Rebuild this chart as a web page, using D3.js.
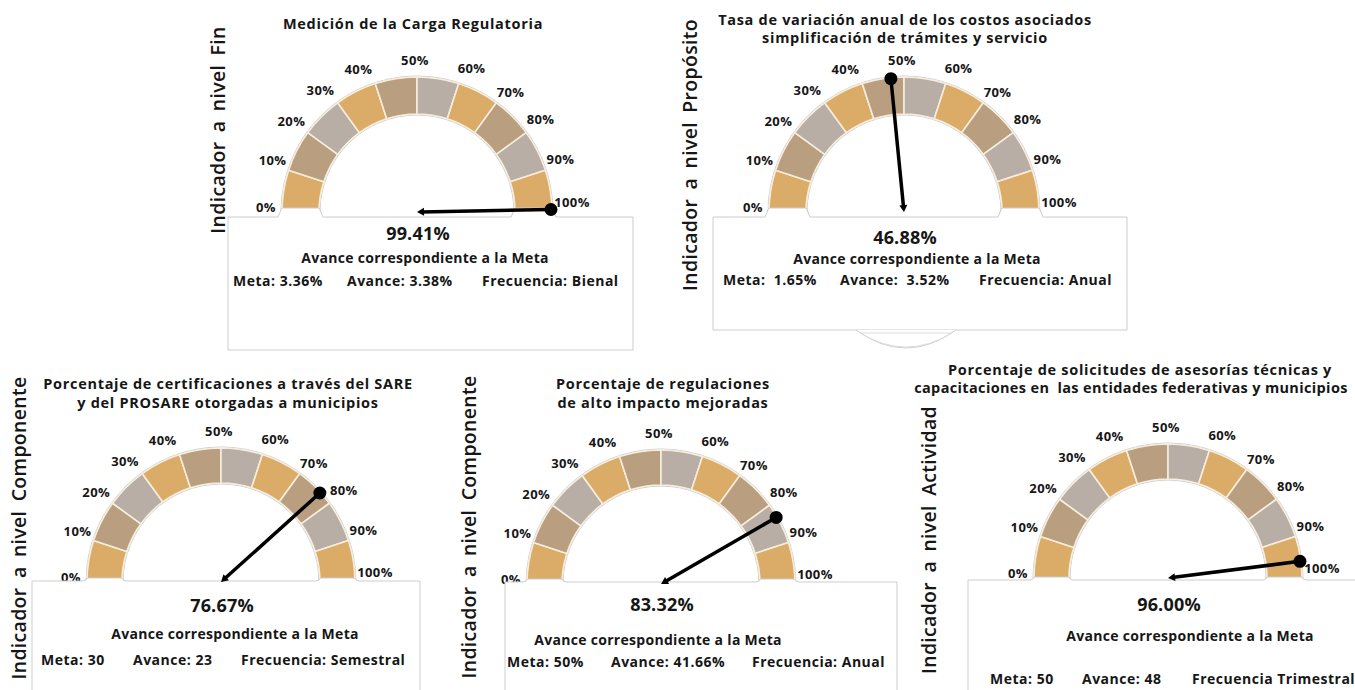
<!DOCTYPE html>
<html lang="es">
<head>
<meta charset="utf-8">
<title>Indicadores de avance</title>
<script src="https://cdn.jsdelivr.net/npm/d3@7"></script>
<style>
  html, body { margin: 0; padding: 0; background: #ffffff; }
  svg { display: block; font-family: "Open Sans", "Noto Sans", sans-serif; }
  text { white-space: pre; fill: #161616; }
</style>
</head>
<body>
<svg id="chart" width="1355" height="690"></svg>
<script>
// ---- Data ----
const titles = [
  ["Medición de la Carga Regulatoria"],
  ["Tasa de variación anual de los costos asociados", "simplificación de trámites y servicio"],
  ["Porcentaje de certificaciones a través del SARE", "y del PROSARE otorgadas a municipios"],
  ["Porcentaje de regulaciones", "de alto impacto mejoradas"],
  ["Porcentaje de solicitudes de asesorías técnicas y", "capacitaciones en  las entidades federativas y municipios"]
];
const levels = ["Fin", "Propósito", "Componente", "Componente", "Actividad"];
const values = [99.41, 46.88, 76.67, 83.32, 96.00];
const metaLabels = ["Meta: 3.36%", "Meta:  1.65%", "Meta: 30", "Meta: 50%", "Meta: 50"];
const avanceLabels = ["Avance: 3.38%", "Avance:  3.52%", "Avance: 23", "Avance: 41.66%", "Avance: 48"];
const frecuenciaLabels = ["Frecuencia: Bienal", "Frecuencia: Anual", "Frecuencia: Semestral", "Frecuencia: Anual", "Frecuencia Trimestral"];
const ticks = [0, 10, 20, 30, 40, 50, 60, 70, 80, 90, 100];
const subtitle = "Avance correspondiente a la Meta";

// ---- Styling ----
const bandColors = ["#dbac68", "#b99e7f", "#b8aea5"];
const dividerColor = "#f6eedc";
const borderColor = "#cdcdcd";
// small per-label offsets so the percentage labels sit clear of the band
const tickNudge = [[3, -5], [2, -4], [-1, 0], [-6, 3], [-11, 3], [-2, 2], [7, 2], [3, 5], [-1, -2], [-3, -5], [1, -10]];

// ---- Panel geometry ----
const layout = [
  { cx: 417, cy: 212, R: 135, r: 98, box: [228, 217, 405, 133], tabH: 9,
    titleX: [413], titleY: [23], titleLS: [0.7], side: [217, 130],
    valY: 233, subX: 425, subY: 257, rowY: 280, rowX: [233, 347, 482] },
  { cx: 904, cy: 212, R: 135, r: 98, box: [713, 217, 414, 113], tabH: 9,
    titleX: [905, 905], titleY: [19, 37], titleLS: [0.7, 0.7], side: [689, 155],
    valY: 237, subX: 917, subY: 258, rowY: 279, rowX: [723, 840, 979], foot: true },
  { cx: 221, cy: 582, R: 134, r: 99, box: [32, 581, 388, 130], tabH: 3,
    titleX: [228, 228], titleY: [383, 402], titleLS: [0.7, 0.7], side: [18, 528],
    valY: 605, subX: 235, subY: 633, rowY: 659, rowX: [41, 133, 241] },
  { cx: 661, cy: 584, R: 134, r: 99, box: [505, 582, 392, 130], tabH: 3,
    titleX: [663, 663], titleY: [383, 402], titleLS: [0.7, 0.7], side: [468, 527],
    valY: 604, subX: 658, subY: 639, rowY: 661, rowX: [507, 611, 752] },
  { cx: 1168, cy: 578, R: 134, r: 99, box: [968, 580, 400, 130], tabH: 3,
    titleX: [1140, 1131], titleY: [369, 387], titleLS: [0.7, 0.35], side: [928, 540],
    valY: 604, subX: 1190, subY: 635, rowY: 678, rowX: [990, 1082, 1192] }
];

const svg = d3.select("#chart");

// value (0..100) -> angle (radians, 0 = up, clockwise)
const angle = d3.scaleLinear().domain([0, 100]).range([-Math.PI / 2, Math.PI / 2]);

layout.forEach((L, i) => {
  const g = svg.append("g").attr("class", "panel");

  // title
  const t = g.append("text")
    .attr("text-anchor", "middle")
    .attr("font-size", 14.5)
    .attr("font-weight", 700);
  titles[i].forEach((line, k) => {
    t.append("tspan")
      .attr("x", L.titleX[k]).attr("y", L.titleY[k])
      .attr("letter-spacing", L.titleLS[k])
      .attr("dominant-baseline", "central")
      .text(line);
  });

  // vertical level label
  g.append("text")
    .attr("transform", `translate(${L.side[0]},${L.side[1]}) rotate(-90)`)
    .attr("text-anchor", "middle")
    .attr("dominant-baseline", "central")
    .attr("font-size", 19.5)
    .attr("font-weight", 600)
    .attr("letter-spacing", 0.3)
    .attr("word-spacing", 4)
    .text("Indicador a nivel " + levels[i]);

  const gauge = g.append("g").attr("transform", `translate(${L.cx},${L.cy})`);

  // band outline
  gauge.append("path")
    .attr("d", d3.arc()({ innerRadius: L.r - 1, outerRadius: L.R + 1, startAngle: angle(0), endAngle: angle(100) }))
    .attr("fill", "none")
    .attr("stroke", borderColor)
    .attr("stroke-width", 1);

  // coloured segments between consecutive ticks
  const segs = d3.pairs(ticks);
  gauge.selectAll("path.seg")
    .data(segs)
    .join("path")
    .attr("class", "seg")
    .attr("d", d => d3.arc()({ innerRadius: L.r, outerRadius: L.R, startAngle: angle(d[0]), endAngle: angle(d[1]) }))
    .attr("fill", (d, k) => bandColors[k % 3])
    .attr("stroke", dividerColor)
    .attr("stroke-width", 1.6);

  // info box with raised tabs under the gauge ends
  const [bx, by, bw, bh] = L.box;
  const tab = (x0, x1) => {
    const h = L.tabH;
    return `L${x0 - 3},${by} L${x0},${by - h + 2} Q${x0},${by - h} ${x0 + 2},${by - h} ` +
           `L${x1 - 2},${by - h} Q${x1},${by - h} ${x1},${by - h + 2} L${x1 + 3},${by} `;
  };
  const lx0 = L.cx - L.R - 1, lx1 = L.cx - L.r + 1;
  const rx0 = L.cx + L.r - 1, rx1 = L.cx + L.R + 1;
  const boxPath = `M${bx},${by} ` + tab(lx0, lx1) + tab(rx0, rx1) +
    `L${bx + bw},${by} L${bx + bw},${by + bh} L${bx},${by + bh} Z`;
  g.append("path")
    .attr("d", boxPath)
    .attr("fill", "#ffffff")
    .attr("stroke", borderColor)
    .attr("stroke-width", 1);

  if (L.foot) {
    const y0 = by + bh;
    const fx = L.cx + 2;
    g.append("path")
      .attr("d", `M${fx - 50},${y0} Q${fx},${y0 + 36} ${fx + 50},${y0}`)
      .attr("fill", "#ffffff")
      .attr("stroke", borderColor)
      .attr("stroke-width", 1);
    g.append("path")
      .attr("d", `M${fx - 46},${y0 + 3} Q${fx},${y0 + 31} ${fx + 46},${y0 + 3} Z`)
      .attr("fill", "none")
      .attr("stroke", "#dcdcdc")
      .attr("stroke-width", 1);
  }

  // tick labels
  const lr = L.R + 19;
  gauge.selectAll("text.tick")
    .data(ticks)
    .join("text")
    .attr("class", "tick")
    .attr("x", (d, k) => Math.sin(angle(d)) * lr + tickNudge[k][0])
    .attr("y", (d, k) => -Math.cos(angle(d)) * lr + tickNudge[k][1])
    .attr("text-anchor", "middle")
    .attr("dominant-baseline", "central")
    .attr("font-size", 13)
    .attr("font-weight", 700)
    .attr("letter-spacing", 0.4)
    .text(d => d + "%");

  // needle
  const a = angle(values[i]);
  const nl = L.R - 1;
  const nx = Math.sin(a) * nl, ny = -Math.cos(a) * nl;
  const needle = g.append("g").attr("transform", `translate(${L.cx},${L.cy})`);
  const ux = -nx / nl, uy = -ny / nl; // unit vector pointing at the hub
  needle.append("line")
    .attr("x1", nx).attr("y1", ny)
    .attr("x2", -ux * 4).attr("y2", -uy * 4)
    .attr("stroke", "#000").attr("stroke-width", 3.5);
  needle.append("path")
    .attr("d", `M0,0 L${-ux * 7 - uy * 4},${-uy * 7 + ux * 4} L${-ux * 7 + uy * 4},${-uy * 7 - ux * 4} Z`)
    .attr("fill", "#000");
  needle.append("circle")
    .attr("cx", nx).attr("cy", ny).attr("r", 6.5)
    .attr("fill", "#000");

  // texts inside the box
  g.append("text")
    .attr("x", L.cx + 1).attr("y", L.valY)
    .attr("text-anchor", "middle").attr("dominant-baseline", "central")
    .attr("font-size", 18).attr("font-weight", 700).attr("letter-spacing", 0.2)
    .text(d3.format(".2f")(values[i]) + "%");
  g.append("text")
    .attr("x", L.subX).attr("y", L.subY)
    .attr("text-anchor", "middle").attr("dominant-baseline", "central")
    .attr("font-size", 14).attr("font-weight", 700).attr("letter-spacing", 0.3)
    .text(subtitle);
  [metaLabels[i], avanceLabels[i], frecuenciaLabels[i]].forEach((s, k) => {
    g.append("text")
      .attr("x", L.rowX[k]).attr("y", L.rowY)
      .attr("dominant-baseline", "central")
      .attr("font-size", 14).attr("font-weight", 700).attr("letter-spacing", 0.5)
      .text(s);
  });
});
</script>
</body>
</html>
